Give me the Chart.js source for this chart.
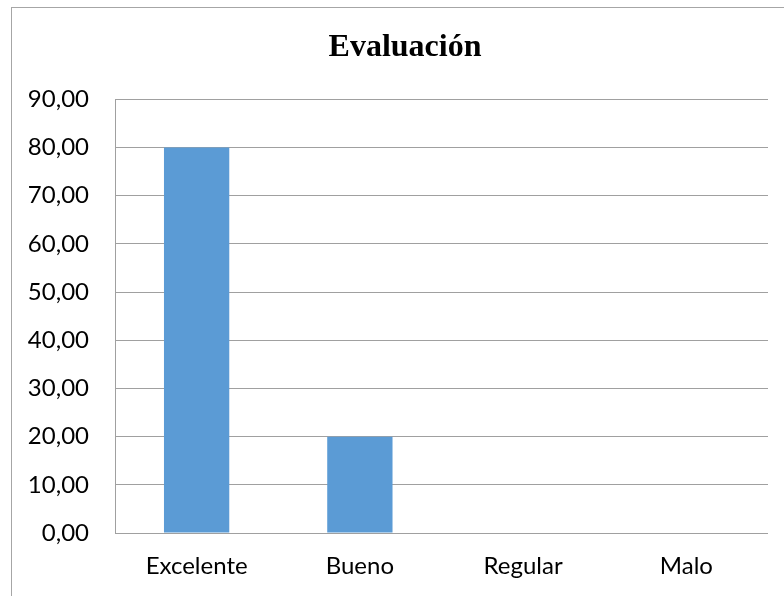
<!DOCTYPE html>
<html>
<head>
  <meta charset="utf-8">
  <meta name="viewport" content="width=device-width, initial-scale=1.0">
  <title>Evaluación</title>
  <script src="https://cdn.jsdelivr.net/npm/chart.js"></script>
  <style>
    * {
        margin: 0;
        padding: 0;
        box-sizing: border-box;
    }

    html, body {
        width: 784px;
        height: 596px;
        background-color: #ffffff;
        overflow: hidden;
    }

    #marco {
        position: absolute;
        left: 11px;
        top: 7px;
        width: 800px;
        height: 620px;
        border: 1px solid #a6a6a6;
    }

    /* el lienzo es mas ancho que la ventana para centrar el titulo como en el original */
    #chartContainer {
        position: absolute;
        left: 0;
        top: 0;
        width: 810px;
        height: 596px;
    }
  </style>
</head>
<body>
  <div id="marco"></div>
  <div id="chartContainer">
    <canvas id="grafico" width="810" height="596"></canvas>
  </div>
  <script>
    // datos del grafico
    const categorias = ["Excelente", "Bueno", "Regular", "Malo"];
    const valores = [80, 20, 0, 0];
    const ejeMin = 0;
    const ejeMax = 90;
    const ejePaso = 10;

    const fuente = "Lato, 'Open Sans', sans-serif";

    const ctx = document.getElementById('grafico').getContext('2d');
    const chart = new Chart(ctx, {
      type: 'bar',
      data: {
        labels: categorias,
        datasets: [{
          label: 'Evaluación',
          data: valores,
          backgroundColor: '#5b9bd5',
          borderWidth: 0,
          barPercentage: 0.4,
          categoryPercentage: 1.0
        }]
      },
      options: {
        responsive: false,
        animation: false,
        layout: {
          padding: { left: 0, right: 0, top: 0, bottom: 0 }
        },
        plugins: {
          legend: { display: false },
          tooltip: { enabled: false },
          title: {
            display: true,
            text: 'Evaluación',
            color: '#000000',
            font: { family: "'Liberation Serif', serif", size: 32, weight: 'bold', lineHeight: 1.2 },
            padding: { top: 29, bottom: 32 }
          }
        },
        scales: {
          x: {
            grid: { display: false, drawTicks: false },
            border: { display: false },
            ticks: {
              color: '#000000',
              font: { family: fuente, size: 24 },
              padding: 19,
              maxRotation: 0
            },
            afterFit: (s) => { s.height = 63; }
          },
          y: {
            min: ejeMin,
            max: ejeMax,
            grid: { color: '#a0a0a0', lineWidth: 1, drawTicks: false },
            border: { display: true, color: '#a0a0a0', width: 1 },
            ticks: {
              stepSize: ejePaso,
              color: '#000000',
              font: { family: fuente, size: 24 },
              padding: 26,
              callback: (v) => v.toFixed(2).replace('.', ',')
            },
            afterFit: (s) => { s.width = 115; }
          },
          // eje vacio a la derecha, solo reserva espacio
          hueco: {
            position: 'right',
            display: true,
            grid: { display: false, drawTicks: false },
            border: { display: false },
            ticks: { display: false },
            afterFit: (s) => { s.width = 42; }
          }
        }
      }
    });
  </script>
</body>
</html>
